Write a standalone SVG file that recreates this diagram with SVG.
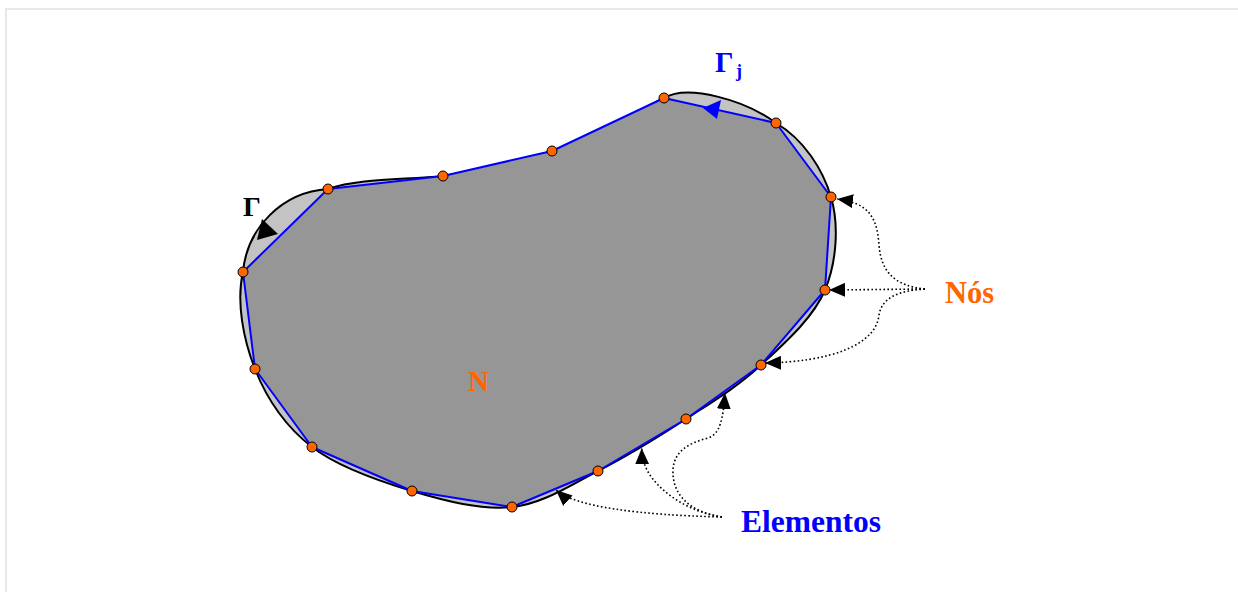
<svg xmlns="http://www.w3.org/2000/svg" width="1238" height="592" viewBox="0 0 1238 592">
<style>
.lbl{font-family:"Liberation Serif","Times New Roman",serif}
.b{font-weight:bold}
.node{fill:#ff6600;stroke:#000;stroke-width:1}
.dot{fill:none;stroke:#000;stroke-width:1.6;stroke-dasharray:1.6 2.4}
</style>
<defs>
<marker id="ah" markerUnits="userSpaceOnUse" markerWidth="17" markerHeight="14" refX="16" refY="7" orient="auto">
<path d="M0,0 L16,7 L0,14 z" fill="#000"/>
</marker>
</defs>
<rect x="6" y="9" width="1250" height="600" fill="#fff" stroke="#e8e8e8" stroke-width="2"/>
<g id="domain">
<path d="M664,98 C688,84 745,100 776,123 C803.8,139.5 822.8,169.2 831,197 C839.2,224.8 836.7,262 825,290 C813.3,318 784.2,343.5 761,365 C737.8,386.5 713.2,401.3 686,419 C658.8,436.7 627,456.3 598,471 C569,485.7 543,503.7 512,507 C481,510.3 445.3,501 412,491 C378.7,481 338.2,467.3 312,447 C285.8,426.7 266.5,398.2 255,369 C243.5,339.8 236,302 243,272 C247,228 282,192 328,189 C360,178 405,180 443,176 C480.3,169.7 515.2,164 552,151 C588.8,138 640,110 664,98 Z" fill="#c3c3c3" stroke="#000" stroke-width="2"/>
<polygon points="664,98 776,123 831,197 825,290 761,365 686,419 598,471 512,507 412,491 312,447 255,369 243,272 328,189 443,176 552,151" fill="#969696" stroke="#0000ff" stroke-width="2" stroke-linejoin="round"/>
<polygon points="257,240 262,219 278,234" fill="#000"/>
<polygon points="703,108 721,100 717,119" fill="#0000ff"/>
</g>
<g id="nodes">
<circle class="node" cx="664" cy="98" r="5"/>
<circle class="node" cx="776" cy="123" r="5"/>
<circle class="node" cx="831" cy="197" r="5"/>
<circle class="node" cx="825" cy="290" r="5"/>
<circle class="node" cx="761" cy="365" r="5"/>
<circle class="node" cx="686" cy="419" r="5"/>
<circle class="node" cx="598" cy="471" r="5"/>
<circle class="node" cx="512" cy="507" r="5"/>
<circle class="node" cx="412" cy="491" r="5"/>
<circle class="node" cx="312" cy="447" r="5"/>
<circle class="node" cx="255" cy="369" r="5"/>
<circle class="node" cx="243" cy="272" r="5"/>
<circle class="node" cx="328" cy="189" r="5"/>
<circle class="node" cx="443" cy="176" r="5"/>
<circle class="node" cx="552" cy="151" r="5"/>
</g>
<g id="connectors">
<path class="dot" marker-end="url(#ah)" d="M925,289 C895,286 881,272 879,245 C877,215 867,203 837,199"/>
<path class="dot" marker-end="url(#ah)" d="M925,289 L829,290"/>
<path class="dot" marker-end="url(#ah)" d="M925,289 C897,291 882,298 879,315 C876,345 830,362 765,363"/>
<path class="dot" marker-end="url(#ah)" d="M722,517 C640,515 575,507 556,490"/>
<path class="dot" marker-end="url(#ah)" d="M722,517 C690,512 665,495 652,478 C645,468 642,460 641.7,448.3"/>
<path class="dot" marker-end="url(#ah)" d="M722,517 C690,512 672,495 673,470 C674,450 690,443 708,438 C720,434 723,420 725,393"/>
</g>
<g id="labels">
<text class="lbl b" x="243" y="216" font-size="28" fill="#000">Γ</text>
<text class="lbl b" x="715" y="72" font-size="29" fill="#0000ff">Γ<tspan x="736" y="77" font-size="18">j</tspan></text>
<text class="lbl b" x="468" y="391" font-size="29" fill="#ff6600">N</text>
<text class="lbl b" x="945" y="303" font-size="30.5" fill="#ff6600">Nós</text>
<text class="lbl b" x="741" y="532" font-size="31.5" fill="#0000ff">Elementos</text>
</g>
</svg>
